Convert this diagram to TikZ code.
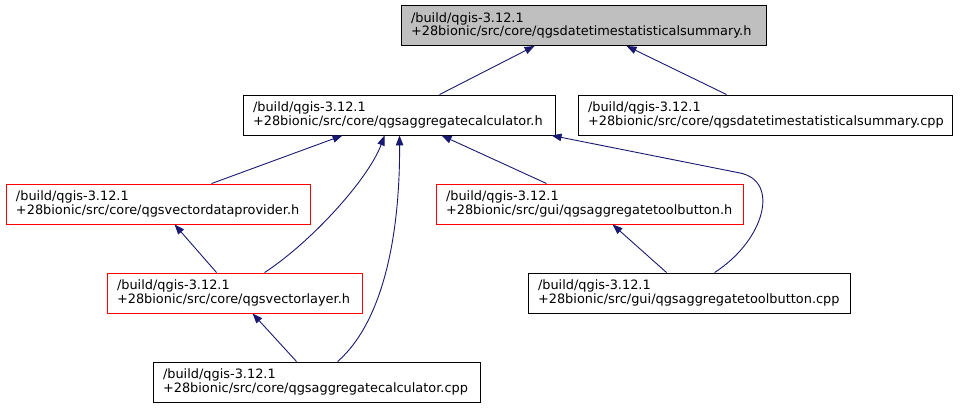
\documentclass[tikz,border=0pt]{standalone}
\usepackage{fontspec}
\setmainfont{DejaVu Sans}
\usetikzlibrary{arrows.meta,calc}
\definecolor{edgec}{HTML}{191970}
\definecolor{grayfill}{HTML}{BFBFBF}
\definecolor{redc}{HTML}{FF0000}
\begin{document}
\begin{tikzpicture}[x=1pt,y=-1pt,
  box/.style={draw=black, line width=0.9pt, inner xsep=10pt, inner ysep=0pt,
    minimum height=40pt, align=left, anchor=center,
    font=\fontsize{12.9}{13.8}\selectfont},
  redbox/.style={box, draw=redc},
  edge/.style={draw=edgec, line width=0.9pt, -{Triangle[length=10pt,width=7.5pt]}}]
\useasboundingbox (0,0) rectangle (964,409);

\node[box, fill=grayfill, text width=345pt] (top) at (583.5,25.5)
  {/build/qgis-3.12.1\\+28bionic/src/core/qgsdatetimestatisticalsummary.h};
\node[box, text width=292pt] (A) at (399,115)
  {/build/qgis-3.12.1\\+28bionic/src/core/qgsaggregatecalculator.h};
\node[box, text width=354pt] (B) at (765,115)
  {/build/qgis-3.12.1\\+28bionic/src/core/qgsdatetimestatisticalsummary.cpp};
\node[redbox, text width=284pt] (C) at (158,204)
  {/build/qgis-3.12.1\\+28bionic/src/core/qgsvectordataprovider.h};
\node[redbox, text width=287pt] (D) at (589.5,204)
  {/build/qgis-3.12.1\\+28bionic/src/gui/qgsaggregatetoolbutton.h};
\node[redbox, text width=235pt] (E) at (234.5,293)
  {/build/qgis-3.12.1\\+28bionic/src/core/qgsvectorlayer.h};
\node[box, text width=302pt] (F) at (689,293)
  {/build/qgis-3.12.1\\+28bionic/src/gui/qgsaggregatetoolbutton.cpp};
\node[box, text width=307pt] (G) at (316.5,382)
  {/build/qgis-3.12.1\\+28bionic/src/core/qgsaggregatecalculator.cpp};

\draw[edge] ([xshift=197]A.north west) -- ([xshift=134]top.south west);
\draw[edge] ([xshift=149]B.north west) -- ([xshift=226]top.south west);
\draw[edge] ([xshift=206]C.north west) -- ([xshift=100]A.south west);
\draw[edge] ([xshift=158]E.north west) .. controls (310,243) and (368,180) .. ([xshift=142]A.south west);
\draw[edge] ([xshift=185]G.north west) .. controls (385,320) and (400,230) .. ([xshift=157]A.south west);
\draw[edge] ([xshift=111]D.north west) -- ([xshift=199]A.south west);
\draw[edge] ([xshift=187]F.north west) .. controls (765,240) and (780,181) .. (740,173) -- ([xshift=309]A.south west);
\draw[edge] ([xshift=110]E.north west) -- ([xshift=169]C.south west);
\draw[edge] ([xshift=139]F.north west) -- ([xshift=177]D.south west);
\draw[edge] ([xshift=144]G.north west) -- ([xshift=146]E.south west);
\end{tikzpicture}
\end{document}
